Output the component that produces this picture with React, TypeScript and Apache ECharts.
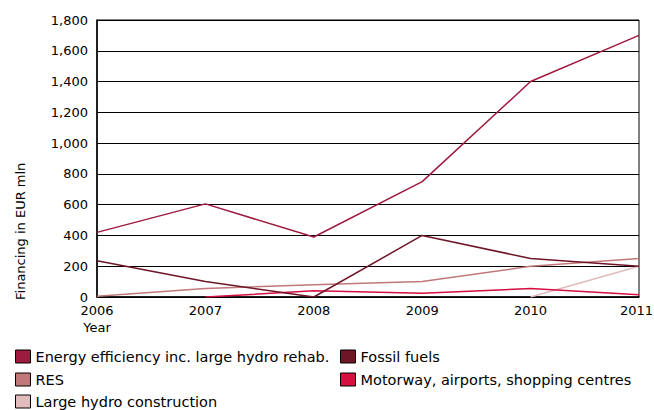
import React, { useEffect, useRef } from "react";
import * as echarts from "echarts";

const years = ["2006", "2007", "2008", "2009", "2010", "2011"];
const energyEfficiency = [420, 605, 390, 750, 1400, 1700];
const fossilFuels = [235, 100, 0, 400, 250, 200];
const res = [5, 55, 80, 100, 200, 250];
const motorway = [null, 0, 40, 25, 55, 15];
const largeHydro = [null, null, null, null, 0, 200];

const names = [
  "Energy efficiency inc. large hydro rehab.",
  "Fossil fuels",
  "RES",
  "Motorway, airports, shopping centres",
  "Large hydro construction",
];
const colors = ["#9e1a3f", "#6e1528", "#c07878", "#d50f3f", "#e0bcbc"];

const FONT = "DejaVu Sans";

const legendPos = [
  { left: 15, top: 349 },
  { left: 340, top: 349 },
  { left: 15, top: 372 },
  { left: 340, top: 372 },
  { left: 15, top: 394 },
];

export default function App() {
  const ref = useRef<HTMLDivElement>(null);
  useEffect(() => {
    const chart = echarts.init(ref.current!, null, { renderer: "svg" });
    const data = [energyEfficiency, fossilFuels, res, motorway, largeHydro];
    chart.setOption({
      animation: false,
      textStyle: { fontFamily: FONT },
      grid: {
        left: 97,
        right: 15,
        top: 20,
        bottom: 113,
        show: true,
        borderColor: "#000",
        borderWidth: 1,
        containLabel: false,
        outerBoundsMode: "none",
      },
      xAxis: {
        type: "category",
        data: years,
        boundaryGap: false,
        axisLine: { lineStyle: { color: "#000", width: 1.5 } },
        axisTick: { show: false },
        axisLabel: {
          color: "#000",
          fontSize: 13,
          margin: 7,
          fontFamily: FONT,
          formatter: (v: string, idx: number) =>
            idx === years.length - 1 ? `{last|${v}}` : v,
          rich: {
            last: { fontSize: 13, fontFamily: FONT, color: "#000", padding: [0, 5, 0, 0] },
          },
        },
      },
      yAxis: {
        type: "value",
        min: 0,
        max: 1800,
        interval: 200,
        axisLine: { show: true, lineStyle: { color: "#000", width: 1.5 } },
        axisTick: { show: false },
        axisLabel: {
          color: "#000",
          fontSize: 13,
          margin: 9,
          fontFamily: FONT,
          formatter: (v: number) => v.toLocaleString("en-US"),
        },
        splitLine: { lineStyle: { color: "#000", width: 1 } },
      },
      legend: names.map((n, i) => ({
        data: [n],
        left: legendPos[i].left,
        top: legendPos[i].top,
        padding: 0,
        itemWidth: 15,
        itemHeight: 13,
        icon: "rect",
        itemStyle: { borderColor: "#000", borderWidth: 1 },
        textStyle: { fontSize: 14.5, color: "#000", fontFamily: FONT },
      })),
      graphic: [
        {
          type: "text",
          x: 20,
          y: 300,
          rotation: Math.PI / 2,
          style: {
            text: "Financing in EUR mln",
            fontSize: 13,
            fontFamily: FONT,
            fill: "#000",
            textAlign: "left",
            textVerticalAlign: "middle",
          },
        },
        {
          type: "text",
          x: 97,
          y: 327,
          style: {
            text: "Year",
            fontSize: 13,
            fontFamily: FONT,
            fill: "#000",
            textAlign: "center",
            textVerticalAlign: "middle",
          },
        },
      ],
      series: names.map((n, i) => ({
        name: n,
        type: "line",
        data: data[i],
        showSymbol: false,
        symbol: "none",
        lineStyle: { color: colors[i], width: 1.5 },
        itemStyle: { color: colors[i] },
        z: 10 - i,
      })),
    });
    return () => chart.dispose();
  }, []);
  return <div ref={ref} style={{ width: 654, height: 410, position: "absolute", left: 0, top: 0 }} />;
}
